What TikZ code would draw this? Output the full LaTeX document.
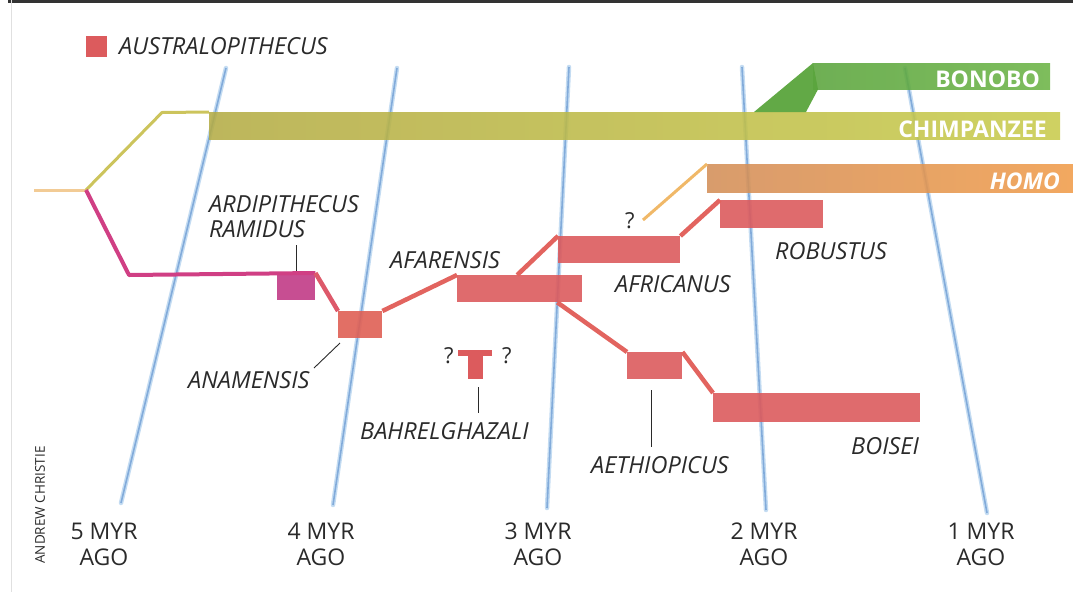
\documentclass[tikz,border=0pt]{standalone}
\usepackage{fontspec}
\setmainfont{Open Sans}
\usetikzlibrary{calc}
\definecolor{aus}{HTML}{DC5B5D}
\definecolor{ausline}{HTML}{E2645F}
\definecolor{ram}{HTML}{C13B86}
\definecolor{magline}{HTML}{D03F84}
\definecolor{chimpL}{HTML}{B4AC46}
\definecolor{chimpR}{HTML}{C8CB4C}
\definecolor{chimpthin}{HTML}{CCC45C}
\definecolor{bonoL}{HTML}{5AA43C}
\definecolor{bonoR}{HTML}{6CB446}
\definecolor{homoL}{HTML}{D38E58}
\definecolor{homoR}{HTML}{F09C4A}
\definecolor{peach}{HTML}{F2CB95}
\definecolor{homothin}{HTML}{F0B868}
\definecolor{blueH}{HTML}{C4DCF2}
\definecolor{blueC}{HTML}{82ABDA}
\definecolor{ink}{HTML}{2A2A2A}
\begin{document}
\begin{tikzpicture}[x=1pt,y=-1pt,
  lbl/.style={font=\fontsize{23.5}{28}\selectfont\itshape, inner sep=0pt, anchor=base west, text=ink},
  myr/.style={font=\fontsize{23}{26}\selectfont, inner sep=0pt, align=center, text=ink, anchor=north},
  barlbl/.style={font=\fontsize{23}{28}\selectfont\bfseries, inner sep=0pt, anchor=base east, text=white},
  blk/.style={fill=aus, inner sep=0pt, anchor=north west, fill opacity=0.9},
  bar/.style={inner sep=0pt, anchor=north west, fill opacity=0.88},
  con/.style={draw=ausline, line width=4.5pt, line join=round},
  qmark/.style={inner sep=0pt, anchor=base west, font=\fontsize{22}{26}\selectfont, text=ink},
  tick/.style={draw=ink, line width=0.9pt},
  timeline/.style={line width=4.5pt, draw=blueH, line cap=round},
  timecore/.style={line width=1.6pt, draw=blueC}
]
\useasboundingbox (0,0) rectangle (1073,592);
% scan edges
\draw[line width=3pt, black!80] (8,1.5) -- (1073,1.5);
\draw[line width=1pt, black!12] (11,0) -- (11,592);

% time lines
\coordinate (t1a) at (226,68);  \coordinate (t1b) at (121,503);
\coordinate (t2a) at (397,68);  \coordinate (t2b) at (333,505);
\coordinate (t3a) at (569,67);  \coordinate (t3b) at (547,508);
\coordinate (t4a) at (742,67);  \coordinate (t4b) at (766,510);
\coordinate (t5a) at (905,68);  \coordinate (t5b) at (987,513);
\foreach \i in {1,...,5}{
  \draw[timeline] (t\i a) -- (t\i b);
  \draw[timecore] (t\i a) -- (t\i b);
}

% legend
\node[blk, minimum width=21pt, minimum height=21pt, fill opacity=1] (leg) at (86,36) {};
\node[lbl] (leglbl) at (119,54) {AUSTRALOPITHECUS};

% ape and human bars
\node[bar, minimum width=851pt, minimum height=27pt, left color=chimpL, right color=chimpR] (chimp) at (209,112) {};
\node[bar, minimum width=237pt, minimum height=26pt, left color=bonoL, right color=bonoR] (bono) at (813,63) {};
\fill[bonoL, fill opacity=0.95] (754,112) -- (bono.north west) -- ([xshift=5pt]bono.south west) -- (806,112) -- cycle;
\node[bar, minimum width=366pt, minimum height=28pt, left color=homoL, right color=homoR] (homo) at (707,164) {};
\node[barlbl] (bonolbl) at (1040,87) {BONOBO};
\node[barlbl] (chimplbl) at (1047,137) {CHIMPANZEE};
\node[barlbl, font=\fontsize{23}{28}\selectfont\bfseries\itshape] (homolbl) at (1060,189) {HOMO};

% root
\coordinate (origin) at (34,190);
\coordinate (root) at (86,190);
\coordinate (chimpbend) at (162,112.5);
\coordinate (magbend) at (129,275);
\draw[peach, line width=3pt] (origin) -- (root);
\draw[chimpthin, line width=3pt, line join=round] (root) -- (chimpbend) -- (chimp.north west);

% hominin blocks
\node[blk, fill=ram, minimum width=38pt, minimum height=27pt] (ramidus) at (277,273) {};
\node[blk, fill=aus!90!orange, minimum width=44pt, minimum height=27pt] (anam) at (338,311) {};
\node[blk, minimum width=125pt, minimum height=27pt] (afar) at (457,275) {};
\node[blk, minimum width=122pt, minimum height=27pt] (afric) at (558,236) {};
\node[blk, minimum width=103pt, minimum height=28pt] (robus) at (720,200) {};
\node[blk, minimum width=55pt, minimum height=27pt] (aeth) at (627,352) {};
\node[blk, minimum width=207pt, minimum height=29pt] (boisei) at (713,393) {};
\node[blk, fill opacity=1, minimum width=34pt, minimum height=6pt] (bahtop) at (458,350) {};
\node[blk, fill opacity=1, minimum width=15pt, minimum height=23pt, anchor=north] (bahstem) at ([yshift=1pt]bahtop.south) {};

% connectors
\draw[magline, line width=4pt, line join=round] (root) -- (magbend) -- (ramidus.north east);
\draw[con, draw=ausline!70!magline] (ramidus.north east) -- (anam.north west);
\draw[con] (anam.north east) -- (afar.north west);
\coordinate (afarup) at ($(afar.north west)!0.48!(afar.north east)$);
\coordinate (afardown) at ($(afar.south west)!0.8!(afar.south east)$);
\draw[con] (afarup) -- (afric.north west);
\draw[con] (afardown) -- (aeth.north west);
\draw[con] (afric.north east) -- (robus.north west);
\draw[con] (aeth.north east) -- (boisei.north west);

% question marks
\node[qmark] (qhomo) at (625,228) {?};
\node[qmark] (qbl) at (444,363) {?};
\node[qmark] (qbr) at (502,363) {?};
\coordinate (homostart) at (643,220);
\draw[homothin, line width=3pt] (homostart) -- (homo.north west);

% labels
\node[lbl] (ramlbl1) at (209,212) {ARDIPITHECUS};
\node[lbl] (ramlbl2) at (209,237) {RAMIDUS};
\node[lbl] (afarlbl) at (390,268) {AFARENSIS};
\node[lbl] (anamlbl) at (188,388) {ANAMENSIS};
\node[lbl] (bahlbl) at (360,439) {BAHRELGHAZALI};
\node[lbl] (afriblbl) at (615,292) {AFRICANUS};
\node[lbl] (robuslbl) at (775,259) {ROBUSTUS};
\node[lbl] (aethlbl) at (591,473) {AETHIOPICUS};
\node[lbl] (boiselbl) at (851,454) {BOISEI};

% ticks
\coordinate (ramtickA) at (296,245); \coordinate (ramtickB) at (296,271);
\coordinate (anamtickA) at (340,343); \coordinate (anamtickB) at (314,368);
\coordinate (bahtickA) at (478,387); \coordinate (bahtickB) at (478,413);
\coordinate (aethtickA) at (651,390); \coordinate (aethtickB) at (651,447);
\draw[tick] (ramtickA) -- (ramtickB);
\draw[tick] (anamtickA) -- (anamtickB);
\draw[tick] (bahtickA) -- (bahtickB);
\draw[tick] (aethtickA) -- (aethtickB);

% axis labels
\node[myr] (m5) at (104,523) {5 MYR\\AGO};
\node[myr] (m4) at (321,523) {4 MYR\\AGO};
\node[myr] (m3) at (538,523) {3 MYR\\AGO};
\node[myr] (m2) at (764,523) {2 MYR\\AGO};
\node[myr] (m1) at (981,523) {1 MYR\\AGO};

\node[rotate=90, inner sep=0pt, font=\fontsize{13.5}{16}\selectfont, text=ink] (credit) at (40,505) {ANDREW CHRISTIE};
\end{tikzpicture}
\end{document}
